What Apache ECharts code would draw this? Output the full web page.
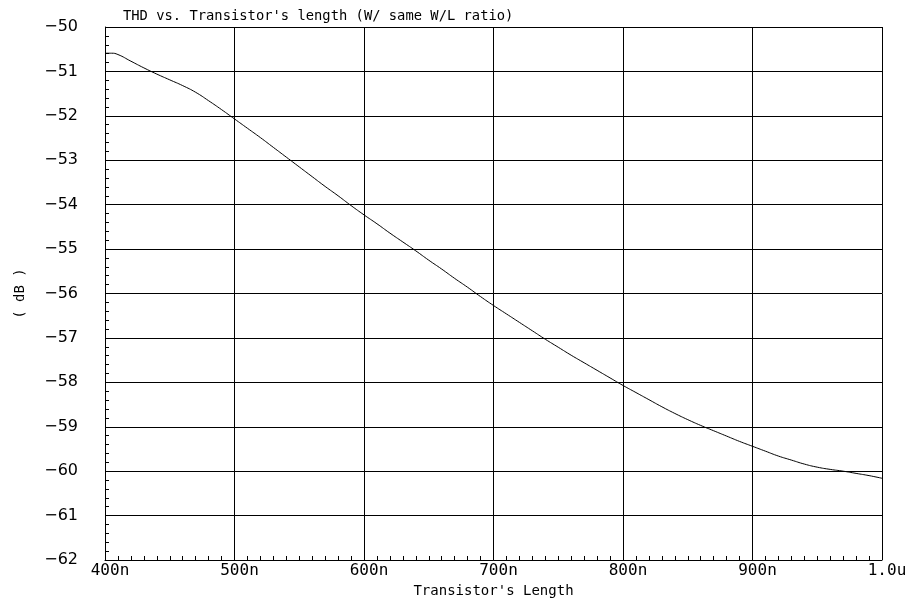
<!DOCTYPE html>
<html>
<head>
<meta charset="utf-8">
<script src="https://cdn.jsdelivr.net/npm/echarts@6/dist/echarts.min.js"></script>
<style>
  html, body { margin: 0; padding: 0; background: #fff; }
  #chart { width: 906px; height: 599px; }
</style>
</head>
<body>
<div id="chart"></div>
<script>
// Transistor length (nm) and simulated THD (dB)
const lengthNm = [400, 405, 410, 420, 430, 440, 450, 460, 470, 480, 490,
  500, 510, 520, 530, 540, 550, 560, 570, 580, 590,
  600, 610, 620, 630, 640, 650, 660, 670, 680, 690,
  700, 710, 720, 730, 740, 750, 760, 770, 780, 790,
  800, 810, 820, 830, 840, 850, 860, 870, 880, 890,
  900, 910, 920, 930, 940, 950, 960, 970, 980, 990, 1000];
const thdDb = [-50.59, -50.59, -50.62, -50.77, -50.92, -51.06, -51.19, -51.32, -51.47, -51.66, -51.86,
  -52.07, -52.28, -52.49, -52.71, -52.93, -53.15, -53.37, -53.59, -53.80, -54.02,
  -54.23, -54.43, -54.64, -54.84, -55.04, -55.25, -55.45, -55.66, -55.86, -56.07,
  -56.27, -56.46, -56.65, -56.84, -57.03, -57.21, -57.39, -57.56, -57.73, -57.90,
  -58.07, -58.23, -58.39, -58.55, -58.70, -58.84, -58.97, -59.09, -59.21, -59.33,
  -59.44, -59.55, -59.66, -59.75, -59.84, -59.91, -59.96, -60.00, -60.05, -60.10, -60.16];

// Tick labels
const xTickLabels = { 400: '400n', 500: '500n', 600: '600n', 700: '700n', 800: '800n', 900: '900n', 1000: '1.0u' };

const FONT = '"DejaVu Sans Mono", monospace';

const chart = echarts.init(document.getElementById('chart'), null, { renderer: 'canvas' });
chart.setOption({
  backgroundColor: '#ffffff',
  animation: false,
  title: {
    text: "THD vs. Transistor's length (W/ same W/L ratio)",
    left: 118,
    top: 4,
    textStyle: { fontFamily: FONT, fontSize: 13.8, fontWeight: 'normal', color: '#000' }
  },
  grid: { left: 105, right: 24, top: 27, bottom: 39, containLabel: false, outerBoundsMode: 'none' },
  xAxis: {
    type: 'value',
    min: 400,
    max: 1000,
    interval: 100,
    name: "Transistor's Length",
    nameLocation: 'middle',
    nameGap: 22,
    nameTextStyle: { fontFamily: FONT, fontSize: 14, color: '#000' },
    axisLine: { show: true, lineStyle: { color: '#000', width: 1 } },
    axisTick: { show: true, inside: true, length: 4, lineStyle: { color: '#000' } },
    minorTick: { show: true, splitNumber: 10, length: 4, lineStyle: { color: '#000', width: 1 } },
    splitLine: { show: true, lineStyle: { color: '#000', width: 1 } },
    axisLabel: {
      margin: 3,
      padding: [0, 0, 0, 10],
      fontFamily: FONT,
      fontSize: 16,
      color: '#000',
      hideOverlap: false,
      formatter: v => xTickLabels[v] || ''
    }
  },
  yAxis: {
    type: 'value',
    min: -62,
    max: -50,
    interval: 1,
    name: '( dB )',
    nameLocation: 'middle',
    nameGap: 78,
    nameRotate: 90,
    nameTextStyle: { fontFamily: FONT, fontSize: 14, color: '#000' },
    axisLine: { show: true, lineStyle: { color: '#000', width: 1 } },
    axisTick: { show: true, inside: true, length: 4, lineStyle: { color: '#000' } },
    minorTick: { show: true, splitNumber: 5, length: 4, lineStyle: { color: '#000', width: 1 } },
    splitLine: { show: true, lineStyle: { color: '#000', width: 1 } },
    axisLabel: {
      margin: 27,
      fontFamily: '"DejaVu Sans", sans-serif',
      fontSize: 16,
      color: '#000',
      formatter: v => (v < 0 ? '\u2212' + Math.abs(v) : String(v))
    }
  },
  series: [{
    type: 'line',
    data: lengthNm.map((x, i) => [x, thdDb[i]]),
    showSymbol: false,
    smooth: true,
    lineStyle: { color: '#000', width: 1 },
    z: 5
  }]
});
</script>
</body>
</html>
